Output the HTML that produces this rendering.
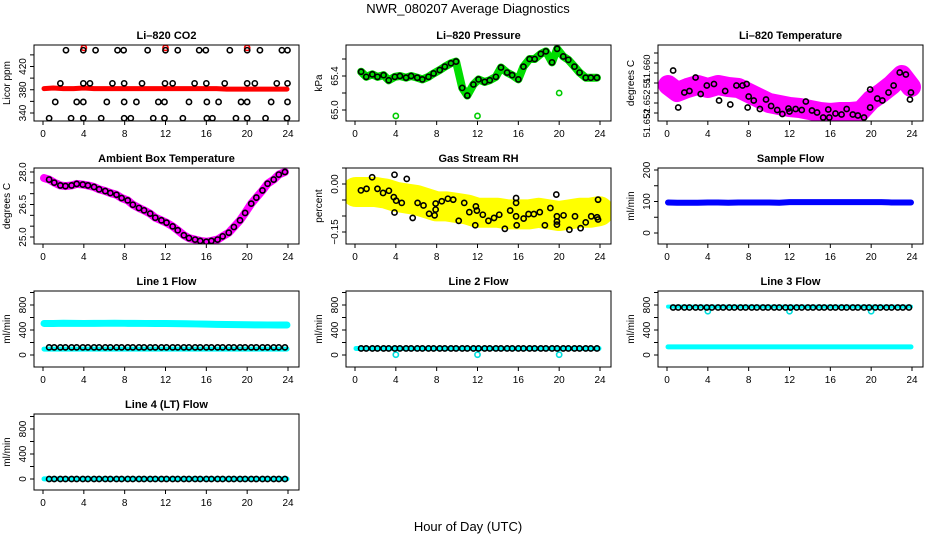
<!DOCTYPE html>
<html><head><meta charset="utf-8"><style>
html,body{margin:0;padding:0;background:#fff;}
svg{display:block;font-family:"Liberation Sans",Arial,sans-serif;}
</style></head><body>
<svg id="chart" width="936" height="540" viewBox="0 0 936 540">
<text x="468" y="13" text-anchor="middle" font-size="13">NWR_080207  Average Diagnostics</text>
<text x="468" y="531" text-anchor="middle" font-size="13">Hour of Day (UTC)</text>
</svg>
<script>
// ---- shared data ----
const xTicks = [0,4,8,12,16,20,24];
const hours = [0.6,1.1,1.7,2.2,2.8,3.3,3.9,4.4,5.0,5.5,6.1,6.6,7.2,7.7,8.3,8.8,9.4,9.9,10.5,11.0,11.6,12.1,12.7,13.2,13.8,14.3,14.9,15.4,16.0,16.5,17.1,17.6,18.2,18.7,19.3,19.8,20.4,20.9,21.5,22.0,22.6,23.1,23.7];
const lineHours = [0.1,1,2,3,4,5,6,7,8,9,10,11,12,13,14,15,16,17,18,19,20,21,22,23,23.9];
// CO2
const co2Hours = [2.25,3.95,5.15,7.3,7.9,10.25,12.0,13.2,15.3,15.95,18.3,20.0,21.25,23.4,23.95,
 1.7,3.95,4.6,6.8,7.95,9.7,11.95,12.7,14.85,16.0,17.8,20.0,20.75,22.9,23.95,
 1.2,3.3,3.95,6.25,7.95,9.15,11.3,11.9,14.3,16.05,17.2,19.4,20.0,22.35,23.95,
 0.6,2.75,3.95,5.7,7.95,8.6,10.8,11.9,13.7,16.05,16.6,18.9,20.0,21.8,23.9];
const co2Vals = [448,448,448,448,448,448,448,448,448,448,448,448,448,448,448,
 391,391,391,391,391,391,391,391,391,391,391,391,391,391,391,
 359,359,359,359,359,359,359,359,359,359,359,359,359,359,359,
 331,331,331,331,331,331,331,331,331,331,331,331,331,331,331];
const co2Red = [382,383,382,382,383,382,382,382,382,382,382,382,382,382,382,382,382,382,381,381,381,381,381,381,381];
const co2RedOutHours = [4,12,20];
const co2RedOutVals = [452,452,452];
// Pressure
const pressVals = [65.45,65.39,65.42,65.39,65.41,65.35,65.39,65.40,65.38,65.40,65.38,65.36,65.39,65.43,65.47,65.51,65.55,65.57,65.26,65.17,65.30,65.36,65.33,65.35,65.39,65.50,65.44,65.41,65.36,65.51,65.60,65.60,65.66,65.69,65.56,65.72,65.63,65.59,65.51,65.44,65.38,65.38,65.38];
const pressOutHours = [4,12,20];
const pressOutVals = [64.93,64.93,65.2];
// Li-820 temperature
const tempHours = [0.6,1.1,1.7,2.2,2.8,3.3,3.9,4.6,5.1,5.7,6.2,6.8,7.4,7.8,7.9,8.0,8.5,9.1,9.7,10.2,10.8,11.3,11.9,12.0,12.6,13.2,13.6,14.2,14.7,15.3,15.8,15.9,16.5,17.1,17.6,18.2,18.7,19.3,19.9,19.9,20.6,21.1,21.7,22.2,22.8,23.4,23.8,23.9];
const tempVals = [51.6585,51.6511,51.6541,51.6544,51.6571,51.6538,51.6555,51.6558,51.6525,51.6544,51.6517,51.6555,51.6555,51.6558,51.6511,51.6533,51.6525,51.6508,51.6527,51.6514,51.6506,51.6498,51.6509,51.6503,51.6508,51.6506,51.6523,51.6505,51.6501,51.6491,51.6507,51.6491,51.6499,51.6497,51.6508,51.6497,51.6495,51.6491,51.6511,51.6547,51.6529,51.6525,51.6541,51.6555,51.6581,51.6577,51.6527,51.6541];
const tempCloud = [51.6556,51.6542,51.6550,51.6556,51.6550,51.6556,51.6552,51.6550,51.6540,51.6530,51.6520,51.6516,51.6512,51.6510,51.6506,51.6502,51.6500,51.6502,51.6502,51.6504,51.6526,51.6540,51.6556,51.6576,51.6552];
// Ambient
const ambVals = [27.65,27.51,27.38,27.35,27.38,27.45,27.42,27.38,27.31,27.20,27.12,27.03,26.95,26.80,26.69,26.49,26.34,26.23,26.08,25.89,25.77,25.66,25.49,25.31,25.08,24.95,24.88,24.82,24.78,24.82,24.88,25.03,25.20,25.46,25.77,26.11,26.54,26.82,27.15,27.46,27.65,27.88,28.00];
// RH
const rhHours = [0.58,1.13,1.68,2.2,2.75,3.32,3.8,3.87,3.87,4.03,4.58,5.07,5.65,6.13,6.71,7.26,7.8,7.9,7.9,8.5,9.1,9.62,10.16,10.7,11.2,11.78,11.84,11.94,12.52,13.07,13.62,14.13,14.68,15.2,15.78,15.78,15.78,15.84,16.52,17.0,17.52,18.1,18.6,19.14,19.72,19.78,19.78,19.78,20.43,21.0,21.55,22.1,22.6,23.14,23.72,23.81,23.81];
const rhVals = [-0.020,-0.015,0.021,-0.015,-0.028,-0.021,-0.041,0.029,-0.089,-0.052,-0.059,0.016,-0.106,-0.059,-0.067,-0.093,-0.098,-0.061,-0.080,-0.054,-0.046,-0.049,-0.115,-0.059,-0.088,-0.129,-0.070,-0.083,-0.096,-0.115,-0.106,-0.096,-0.140,-0.083,-0.044,-0.059,-0.101,-0.129,-0.108,-0.094,-0.094,-0.088,-0.129,-0.075,-0.033,-0.101,-0.117,-0.127,-0.098,-0.143,-0.101,-0.138,-0.120,-0.101,-0.104,-0.049,-0.111];
const rhCloud = [-0.025,-0.025,-0.025,-0.03,-0.04,-0.045,-0.05,-0.06,-0.07,-0.07,-0.075,-0.08,-0.09,-0.09,-0.09,-0.095,-0.095,-0.095,-0.09,-0.095,-0.1,-0.095,-0.09,-0.09,-0.085];
// Sample flow
const sampleFlow = [97,96,96,96,97,97,96,97,97,97,97,96,98,98,98,98,98,98,98,98,98,98,97,97,97];
// Line flows
const line1Upper = [505,505,508,506,505,506,507,508,507,506,505,505,504,502,500,497,494,490,488,486,484,482,481,480,480];
const line1Lower = [95,95,95,95,95,95,95,95,95,95,95,95,95,95,95,95,95,95,95,95,95,95,95,95,95];
const line1Black = 122;
const line2Black = 105;
const line2Cyan = [105,105,105,105,105,105,105,105,105,105,105,105,105,105,105,105,105,105,105,105,105,105,105,105,105];
const line2OutHours = [4,12,20];
const line2OutVals = [5,5,5];
const line3Black = 760;
const line3Upper = [775,775,775,775,775,775,775,775,775,775,775,775,775,775,775,775,775,775,775,775,775,775,775,775,775];
const line3Lower = [130,130,130,130,130,130,130,130,130,130,130,130,130,130,130,130,130,130,130,130,130,130,130,130,130];
const line3OutHours = [4,12,20];
const line3OutVals = [700,700,700];
const line4Black = 0;
const line4Cyan = [2,2,2,2,2,2,2,2,2,2,2,2,2,2,2,2,2,2,2,2,2,2,2,2,2];

// ---- layout ----
const NS = "http://www.w3.org/2000/svg";
const svg = document.getElementById('chart');
const colL = [34,346,658], rowT = [45,168,291,414], W = 265, H = 76;
function mk(tag, attrs, parent){ const e=document.createElementNS(NS,tag); for(const k in attrs) e.setAttribute(k,attrs[k]); (parent||svg).appendChild(e); return e; }

function panel(o){
  const L = colL[o.col], T = rowT[o.row];
  const g = mk('g',{});
  
  
  const xs = h => L + 9 + h*(W-20)/24;
  const ys = v => T + o.p0 + (v - o.v0)*(o.p1 - o.p0)/(o.v1 - o.v0);
  const cid = 'clip'+o.name;
  const cp = mk('clipPath',{id:cid},g); mk('rect',{x:L,y:T,width:W,height:H},cp);
  const plot = mk('g',{'clip-path':'url(#'+cid+')'},g);
  
  
  o.draw({plot, xs, ys});
  const box = mk('rect',{x:L,y:T,width:W,height:H,fill:'none',stroke:'#000','stroke-width':1},g);
  
  
  const t = mk('text',{x:L+W/2,y:T-6,'text-anchor':'middle','font-size':11,'font-weight':'bold'},g);
  t.textContent = o.title;
  
  
  xTicks.forEach(h=>{
    mk('line',{x1:xs(h),x2:xs(h),y1:T+H,y2:T+H+4,stroke:'#000'},g);
    const tl = mk('text',{x:xs(h),y:T+H+16,'text-anchor':'middle','font-size':10},g);
    tl.textContent = h;
    
    
  });
  o.yTicks.forEach((v,i)=>{
    const y = ys(v);
    mk('line',{x1:L-4,x2:L,y1:y,y2:y,stroke:'#000'},g);
  });
  o.yLabels.forEach((lab,i)=>{
    const y = o.yLabelPos ? T + o.yLabelPos[i] : ys(o.yLabelVals[i]);
    const fs = o.yLabelSize || 10;
    const tl = mk('text',{x:L-8,y:y,'text-anchor':'middle','font-size':fs,transform:`rotate(-90 ${L-8} ${y})`},g);
    tl.textContent = lab;
    
    
  });
  const yl = mk('text',{x:L-24,y:T+H/2,'text-anchor':'middle','font-size':10,transform:`rotate(-90 ${L-24} ${T+H/2})`},g);
  yl.textContent = o.ylab;
  
  
}
function thick(p, xs, ys, hs, vs, color, w, name){
  const pl = mk('polyline',{points:hs.map((h,i)=>xs(h)+','+ys(vs[i])).join(' '),fill:'none',stroke:color,'stroke-width':w,'stroke-linejoin':'round','stroke-linecap':'round'},p);
  
  
}
function pts(p, xs, ys, hs, vs, color, name, r){
  hs.forEach((h,i)=>{
    const c = mk('circle',{cx:xs(h),cy:ys(typeof vs==='number'?vs:vs[i]),r:r||2.6,fill:'none',stroke:color,'stroke-width':1.6},p);
    
    
  });
}
const flowTicks=[0,200,400,600,800,1000], flowLabels=['0','400','800'], flowLabelVals=[0,400,800];

panel({name:'co2-panel',col:0,row:0,title:'Li\u2013820 CO2',ylab:'Licor ppm',v0:340,p0:68,v1:420,p1:21.5,
  yTicks:[340,360,380,400,420,440],yLabels:['340','380','420'],yLabelVals:[340,380,420],
  draw:({plot,xs,ys})=>{
    thick(plot,xs,ys,lineHours,co2Red,'#ff0000',5,'co2-red-series');
    pts(plot,xs,ys,co2RedOutHours,co2RedOutVals,'#ff0000','co2-red-point');
    pts(plot,xs,ys,co2Hours,co2Vals,'#000','co2-hourly-point');
  }});
panel({name:'pressure-panel',col:1,row:0,title:'Li\u2013820 Pressure',ylab:'kPa',v0:65.0,p0:65,v1:65.4,p1:31,
  yTicks:[65.0,65.2,65.4,65.6],yLabels:['65.0','65.4'],yLabelVals:[65.0,65.4],
  draw:({plot,xs,ys})=>{
    thick(plot,xs,ys,hours,pressVals,'#00dd00',8,'pressure-green-series');
    pts(plot,xs,ys,pressOutHours,pressOutVals,'#00cc00','pressure-outlier');
    pts(plot,xs,ys,hours,pressVals,'#000','pressure-hourly-point');
  }});
panel({name:'temperature-panel',col:2,row:0,title:'Li\u2013820 Temperature',ylab:'degrees C',v0:51.650,p0:68,v1:51.660,p1:18,
  yTicks:[51.650,51.652,51.654,51.656,51.658,51.660,51.662],yLabels:['51.652','51.652','51','51.660'],yLabelPos:[78,59,38,24],yLabelSize:9.5,
  draw:({plot,xs,ys})=>{
    thick(plot,xs,ys,lineHours,tempCloud,'#ff00ff',20,'temperature-magenta-series');
    pts(plot,xs,ys,tempHours,tempVals,'#000','temperature-hourly-point');
  }});
panel({name:'ambient-panel',col:0,row:1,title:'Ambient Box Temperature',ylab:'degrees C',v0:28.0,p0:4,v1:25.0,p1:69,
  yTicks:[25,25.5,26,26.5,27,27.5,28],yLabels:['25.0','26.5','28.0'],yLabelVals:[25,26.5,28],
  draw:({plot,xs,ys})=>{
    thick(plot,xs,ys,[0.1].concat(hours),[27.72].concat(ambVals),'#ff00ff',8,'ambient-magenta-series');
    pts(plot,xs,ys,hours,ambVals,'#000','ambient-hourly-point');
  }});
panel({name:'rh-panel',col:1,row:1,title:'Gas Stream RH',ylab:'percent',v0:0,p0:16,v1:-0.15,p1:64,
  yTicks:[0.05,0,-0.05,-0.1,-0.15],yLabels:['0.00','\u22120.15'],yLabelVals:[0,-0.15],
  draw:({plot,xs,ys})=>{
    thick(plot,xs,ys,lineHours,rhCloud,'#ffff00',30,'rh-yellow-series');
    pts(plot,xs,ys,rhHours,rhVals,'#000','rh-hourly-point');
  }});
panel({name:'sample-flow-panel',col:2,row:1,title:'Sample Flow',ylab:'ml/min',v0:0,p0:65,v1:200,p1:2,
  yTicks:[0,50,100,150,200],yLabels:['0','100','200'],yLabelVals:[0,100,200],
  draw:({plot,xs,ys})=>{
    thick(plot,xs,ys,lineHours,sampleFlow,'#0000ff',6,'sample-flow-series');
  }});
panel({name:'line1-flow-panel',col:0,row:2,title:'Line 1 Flow',ylab:'ml/min',v0:0,p0:64,v1:1000,p1:1.5,
  yTicks:flowTicks,yLabels:flowLabels,yLabelVals:flowLabelVals,
  draw:({plot,xs,ys})=>{
    thick(plot,xs,ys,lineHours,line1Upper,'#00ffff',7,'line1-upper-series');
    thick(plot,xs,ys,lineHours,line1Lower,'#00ffff',5,'line1-lower-series');
    pts(plot,xs,ys,hours,line1Black,'#000','line1-hourly-point');
  }});
panel({name:'line2-flow-panel',col:1,row:2,title:'Line 2 Flow',ylab:'ml/min',v0:0,p0:64,v1:1000,p1:1.5,
  yTicks:flowTicks,yLabels:flowLabels,yLabelVals:flowLabelVals,
  draw:({plot,xs,ys})=>{
    thick(plot,xs,ys,lineHours,line2Cyan,'#00ffff',5,'line2-cyan-series');
    pts(plot,xs,ys,line2OutHours,line2OutVals,'#00dddd','line2-outlier');
    pts(plot,xs,ys,hours,line2Black,'#000','line2-hourly-point');
  }});
panel({name:'line3-flow-panel',col:2,row:2,title:'Line 3 Flow',ylab:'ml/min',v0:0,p0:64,v1:1000,p1:1.5,
  yTicks:flowTicks,yLabels:flowLabels,yLabelVals:flowLabelVals,
  draw:({plot,xs,ys})=>{
    thick(plot,xs,ys,lineHours,line3Upper,'#00ffff',4,'line3-upper-series');
    thick(plot,xs,ys,lineHours,line3Lower,'#00ffff',5,'line3-lower-series');
    pts(plot,xs,ys,line3OutHours,line3OutVals,'#00dddd','line3-outlier');
    pts(plot,xs,ys,hours,line3Black,'#000','line3-hourly-point');
  }});
panel({name:'line4-flow-panel',col:0,row:3,title:'Line 4 (LT) Flow',ylab:'ml/min',v0:0,p0:65,v1:1000,p1:2.5,
  yTicks:flowTicks,yLabels:flowLabels,yLabelVals:flowLabelVals,
  draw:({plot,xs,ys})=>{
    thick(plot,xs,ys,lineHours,line4Cyan,'#00ffff',5,'line4-cyan-series');
    pts(plot,xs,ys,hours,line4Black,'#000','line4-hourly-point');
  }});
</script>
</body></html>
